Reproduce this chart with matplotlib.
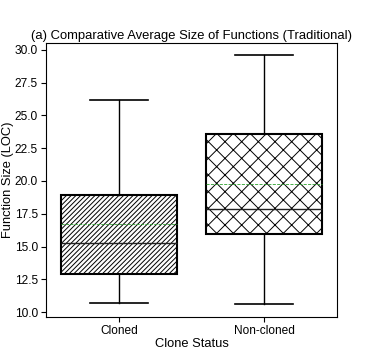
import numpy as np
import matplotlib as mpl
mpl.use('Agg')
import matplotlib.pyplot as plt

# summary stats (LOC)
groups = ['Cloned', 'Non-cloned']
whislo = [10.73, 10.61]
q1 = [12.90, 15.95]
med = [15.29, 17.86]
mean = [16.72, 19.77]
q3 = [18.90, 23.61]
whishi = [26.18, 29.56]
hatches = ['///////', 'xx']

plt.rcParams['font.family'] = ['Liberation Sans', 'DejaVu Sans']
plt.rcParams['hatch.linewidth'] = 0.7

fig, ax = plt.subplots(figsize=(3.74, 3.63), dpi=100)

stats = []
for i in range(len(groups)):
    stats.append({'label': groups[i], 'whislo': whislo[i], 'q1': q1[i],
                  'med': med[i], 'mean': mean[i], 'q3': q3[i],
                  'whishi': whishi[i], 'fliers': []})

bp = ax.bxp(stats, positions=[0, 1], widths=0.8, patch_artist=True,
            showmeans=True, meanline=True,
            boxprops=dict(facecolor='white', edgecolor='black', linewidth=1.5),
            medianprops=dict(color='#222222', linewidth=1.0),
            meanprops=dict(color='#2ca02c', linestyle='--', linewidth=0.6),
            whiskerprops=dict(color='black', linewidth=1.0),
            capprops=dict(color='black', linewidth=1.2),
            capwidths=0.4)

for patch, h in zip(bp['boxes'], hatches):
    patch.set_hatch(h)

ax.set_xlim(-0.5, 1.5)
ax.set_ylim(9.66, 30.51)
ax.set_yticks(np.arange(10, 30.1, 2.5))
ax.set_yticklabels(['{:.1f}'.format(v) for v in np.arange(10, 30.1, 2.5)])
ax.tick_params(labelsize=8.6, length=3.5, width=0.8, pad=2.5, colors='black')
for s in ax.spines.values():
    s.set_linewidth(0.8)

ax.set_title('(a) Comparative Average Size of Functions (Traditional)', fontsize=9.4, pad=3)
ax.set_xlabel('Clone Status', fontsize=9.3, labelpad=1)
ax.set_ylabel('Function Size (LOC)', fontsize=9.3)
ax.yaxis.set_label_coords(-0.11, 0.5)

fig.subplots_adjust(left=46.3/374, right=336.7/374, bottom=1-316.7/363, top=1-43/363)
fig.savefig('out.png')
